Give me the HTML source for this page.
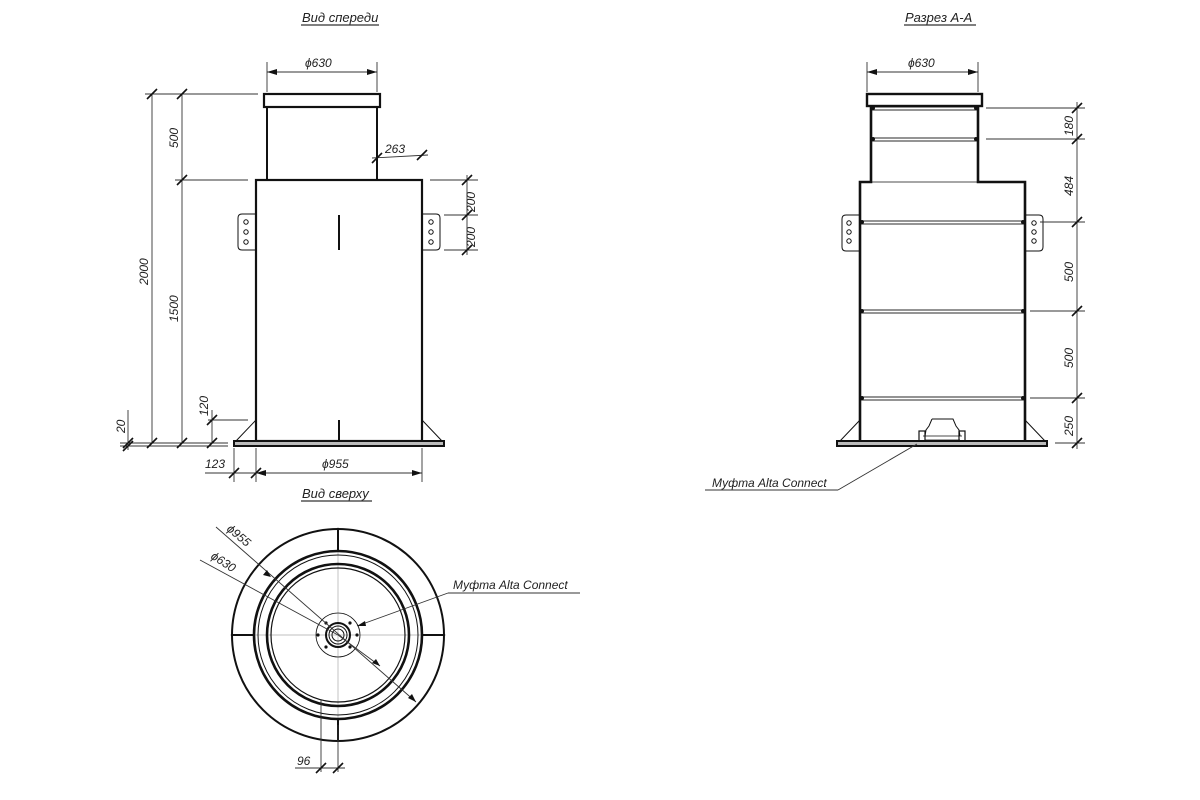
<!DOCTYPE html>
<html><head><meta charset="utf-8"><style>
html,body{margin:0;padding:0;background:#fff;}
svg{display:block}
text{font-family:"Liberation Sans","DejaVu Sans",sans-serif;font-style:italic;fill:#222;}
</style></head><body>
<svg width="1200" height="800" viewBox="0 0 1200 800" xmlns="http://www.w3.org/2000/svg">
<defs>
<g id="tk"><line x1="-5" y1="5" x2="5" y2="-5" stroke="#111" stroke-width="1.6"/></g>
</defs>
<!-- titles -->
<g font-size="13">
<text x="302" y="22">Вид спереди</text>
<line x1="301" y1="25" x2="379" y2="25" stroke="#333" stroke-width="1.2"/>
<text x="905" y="22">Разрез А-А</text>
<line x1="904" y1="25" x2="976" y2="25" stroke="#333" stroke-width="1.2"/>
<text x="302" y="498">Вид сверху</text>
<line x1="301" y1="501" x2="372" y2="501" stroke="#333" stroke-width="1.2"/>
</g>

<!-- FRONT VIEW -->
<g fill="none" stroke="#111">
<rect x="264" y="94" width="116" height="13" stroke-width="2.2"/>
<rect x="267" y="107" width="110" height="73" stroke-width="2"/>
<rect x="256" y="180" width="166" height="261" stroke-width="2.2"/>
<rect x="234" y="441" width="210" height="5" stroke-width="2" fill="#bbb"/>
<path d="M256 420 L236 441 M422 420 L442 441" stroke-width="1"/>
<line x1="339" y1="215" x2="339" y2="250" stroke-width="2"/>
<line x1="339" y1="420" x2="339" y2="441" stroke-width="2"/>
<path d="M256 214 H242 Q238 214 238 218 V246 Q238 250 242 250 H256" stroke-width="1"/>
<path d="M422 214 H436 Q440 214 440 218 V246 Q440 250 436 250 H422" stroke-width="1"/>
<circle cx="246" cy="222" r="2.2" stroke-width="1"/><circle cx="246" cy="232" r="2.2" stroke-width="1"/><circle cx="246" cy="242" r="2.2" stroke-width="1"/>
<circle cx="431" cy="222" r="2.2" stroke-width="1"/><circle cx="431" cy="232" r="2.2" stroke-width="1"/><circle cx="431" cy="242" r="2.2" stroke-width="1"/>
<!-- dims -->
<g stroke-width="0.9" stroke="#333">
<line x1="267" y1="62" x2="267" y2="92"/><line x1="377" y1="62" x2="377" y2="92"/>
<line x1="267" y1="72" x2="377" y2="72"/>
<line x1="145" y1="94" x2="258" y2="94"/>
<line x1="175" y1="180" x2="248" y2="180"/>
<line x1="120" y1="443" x2="228" y2="443"/>
<line x1="120" y1="446" x2="228" y2="446"/>
<line x1="152" y1="94" x2="152" y2="443"/>
<line x1="182" y1="94" x2="182" y2="443"/>
<line x1="212" y1="410" x2="212" y2="443"/>
<line x1="208" y1="420" x2="248" y2="420"/>
<line x1="128" y1="410" x2="128" y2="450"/>
<line x1="430" y1="180" x2="478" y2="180"/>
<line x1="444" y1="215" x2="478" y2="215"/>
<line x1="444" y1="250" x2="478" y2="250"/>
<line x1="467" y1="175" x2="467" y2="255"/>
<line x1="372" y1="158" x2="428" y2="155"/>
<line x1="234" y1="448" x2="234" y2="482"/>
<line x1="256" y1="448" x2="256" y2="482"/>
<line x1="422" y1="448" x2="422" y2="482"/>
<line x1="205" y1="473" x2="422" y2="473"/>
</g>
<path d="M267 72 l10 -3 v6z M377 72 l-10 -3 v6z M256 473 l10 -3 v6z M422 473 l-10 -3 v6z" fill="#111" stroke="none"/>
</g>
<g>
<use href="#tk" x="152" y="94"/><use href="#tk" x="182" y="94"/><use href="#tk" x="182" y="180"/>
<use href="#tk" x="152" y="443"/><use href="#tk" x="182" y="443"/><use href="#tk" x="212" y="443"/><use href="#tk" x="212" y="420"/>
<use href="#tk" x="128" y="443"/><use href="#tk" x="128" y="446"/>
<use href="#tk" x="467" y="180"/><use href="#tk" x="467" y="215"/><use href="#tk" x="467" y="250"/>
<use href="#tk" x="377" y="158"/><use href="#tk" x="422" y="155"/>
<use href="#tk" x="234" y="473"/><use href="#tk" x="256" y="473"/>
</g>
<g font-size="12">
<text x="305" y="67">ϕ630</text>
<text x="385" y="153">263</text>
<text x="322" y="468">ϕ955</text>
<text x="205" y="468">123</text>
<text transform="translate(178,148) rotate(-90)">500</text>
<text transform="translate(178,322) rotate(-90)">1500</text>
<text transform="translate(148,285) rotate(-90)">2000</text>
<text transform="translate(208,416) rotate(-90)">120</text>
<text transform="translate(125,433) rotate(-90)">20</text>
<text transform="translate(475,212) rotate(-90)">200</text>
<text transform="translate(475,247) rotate(-90)">200</text>
</g>

<!-- SECTION A-A -->
<g fill="none" stroke="#111">
<rect x="867" y="94" width="115" height="12" stroke-width="2.4"/>
<path d="M871 106 V182 H860 V441 M978 106 V182 H1025 V441" stroke-width="2.6"/>
<line x1="871" y1="182" x2="978" y2="182" stroke-width="0.8"/>
<rect x="837" y="441" width="210" height="5" stroke-width="2" fill="#bbb"/>
<path d="M860 420 L840 441 M1025 420 L1045 441" stroke-width="1"/>
<g stroke-width="0.9">
<rect x="871" y="107" width="107" height="3"/>
<rect x="871" y="138" width="107" height="3"/>
<rect x="860" y="221" width="165" height="3"/>
<rect x="860" y="310" width="165" height="3"/>
<rect x="860" y="397" width="165" height="3"/>
</g>
<g fill="#111" stroke="none">
<circle cx="873" cy="108" r="2"/><circle cx="976" cy="108" r="2"/>
<circle cx="873" cy="139" r="2"/><circle cx="976" cy="139" r="2"/>
<circle cx="862" cy="222" r="2"/><circle cx="1023" cy="222" r="2"/>
<circle cx="862" cy="311" r="2"/><circle cx="1023" cy="311" r="2"/>
<circle cx="862" cy="398" r="2"/><circle cx="1023" cy="398" r="2"/>
</g>
<path d="M860 215 H846 Q842 215 842 219 V247 Q842 251 846 251 H860" stroke-width="1"/>
<path d="M1025 215 H1039 Q1043 215 1043 219 V247 Q1043 251 1039 251 H1025" stroke-width="1"/>
<circle cx="849" cy="223" r="2.2" stroke-width="1"/><circle cx="849" cy="232" r="2.2" stroke-width="1"/><circle cx="849" cy="241" r="2.2" stroke-width="1"/>
<circle cx="1034" cy="223" r="2.2" stroke-width="1"/><circle cx="1034" cy="232" r="2.2" stroke-width="1"/><circle cx="1034" cy="241" r="2.2" stroke-width="1"/>
<!-- connector -->
<path d="M932 419 H953 L956 426 L959 430 L960 436 M932 419 L929 426 L926 430 L925 436" stroke-width="1"/>
<path d="M923 436 H962 M925 440 H960" stroke-width="0.8"/>
<rect x="919" y="431" width="6" height="10" stroke-width="1.2"/>
<rect x="959" y="431" width="6" height="10" stroke-width="1.2"/>
<g stroke-width="0.9" stroke="#333">
<line x1="867" y1="62" x2="867" y2="92"/><line x1="978" y1="62" x2="978" y2="92"/>
<line x1="867" y1="72" x2="978" y2="72"/>
<line x1="986" y1="108" x2="1085" y2="108"/>
<line x1="986" y1="139" x2="1085" y2="139"/>
<line x1="1040" y1="222" x2="1085" y2="222"/>
<line x1="1030" y1="311" x2="1085" y2="311"/>
<line x1="1030" y1="398" x2="1085" y2="398"/>
<line x1="1055" y1="443" x2="1085" y2="443"/>
<line x1="1077" y1="102" x2="1077" y2="449"/>
<line x1="917" y1="444" x2="838" y2="490"/>
<line x1="838" y1="490" x2="705" y2="490"/>
</g>
<path d="M867 72 l10 -3 v6z M978 72 l-10 -3 v6z" fill="#111" stroke="none"/>
</g>
<g>
<use href="#tk" x="1077" y="108"/><use href="#tk" x="1077" y="139"/><use href="#tk" x="1077" y="222"/>
<use href="#tk" x="1077" y="311"/><use href="#tk" x="1077" y="398"/><use href="#tk" x="1077" y="443"/>
</g>
<g font-size="12">
<text x="908" y="67">ϕ630</text>
<text transform="translate(1073,136) rotate(-90)">180</text>
<text transform="translate(1073,196) rotate(-90)">484</text>
<text transform="translate(1073,282) rotate(-90)">500</text>
<text transform="translate(1073,368) rotate(-90)">500</text>
<text transform="translate(1073,436) rotate(-90)">250</text>
<text x="712" y="487">Муфта Alta Connect</text>
</g>

<!-- TOP VIEW -->
<g fill="none" stroke="#111">
<g stroke="#aaa" stroke-width="0.7">
<line x1="230" y1="635" x2="446" y2="635"/>
<line x1="338" y1="527" x2="338" y2="740"/>
</g>
<circle cx="338" cy="635" r="106" stroke-width="2"/>
<circle cx="338" cy="635" r="84" stroke-width="2.6"/>
<circle cx="338" cy="635" r="80" stroke-width="1"/>
<circle cx="338" cy="635" r="71" stroke-width="2.6"/>
<circle cx="338" cy="635" r="67" stroke-width="1.2"/>
<circle cx="338" cy="635" r="22" stroke-width="0.8"/>
<circle cx="338" cy="635" r="12" stroke-width="2"/>
<circle cx="338" cy="635" r="9" stroke-width="1"/>
<circle cx="338" cy="635" r="6" stroke-width="1"/>
<g fill="#111" stroke="none">
<circle cx="326" cy="623" r="1.6"/><circle cx="350" cy="623" r="1.6"/><circle cx="326" cy="647" r="1.6"/><circle cx="350" cy="647" r="1.6"/><circle cx="318" cy="635" r="1.6"/><circle cx="357" cy="635" r="1.6"/>
</g>
<g stroke-width="2">
<line x1="338" y1="529" x2="338" y2="551"/><line x1="338" y1="719" x2="338" y2="741"/>
<line x1="232" y1="635" x2="254" y2="635"/><line x1="422" y1="635" x2="444" y2="635"/>
</g>
<g stroke="#333" stroke-width="0.9">
<line x1="216" y1="527" x2="416" y2="702"/>
<line x1="200" y1="560" x2="338" y2="635"/>
<line x1="338" y1="635" x2="380" y2="666"/>
<line x1="448" y1="593" x2="580" y2="593"/>
<line x1="448" y1="593" x2="357" y2="626"/>
<line x1="321" y1="700" x2="321" y2="772"/>
<line x1="338" y1="725" x2="338" y2="772"/>
<line x1="295" y1="768" x2="345" y2="768"/>
</g>
<path d="M271 577 l-8 -2 l4 -5z M416 702 l-8 -4 l4 -4z M380 666 l-4 -7 l-4 4z M357 626 l8 -5 l1 5z" fill="#111" stroke="none"/>
</g>
<use href="#tk" x="321" y="768"/><use href="#tk" x="338" y="768"/>
<g font-size="12">
<text transform="translate(226,530) rotate(40)">ϕ955</text>
<text transform="translate(210,558) rotate(33)">ϕ630</text>
<text x="453" y="589">Муфта Alta Connect</text>
<text x="297" y="765">96</text>
</g>
</svg>
</body></html>
